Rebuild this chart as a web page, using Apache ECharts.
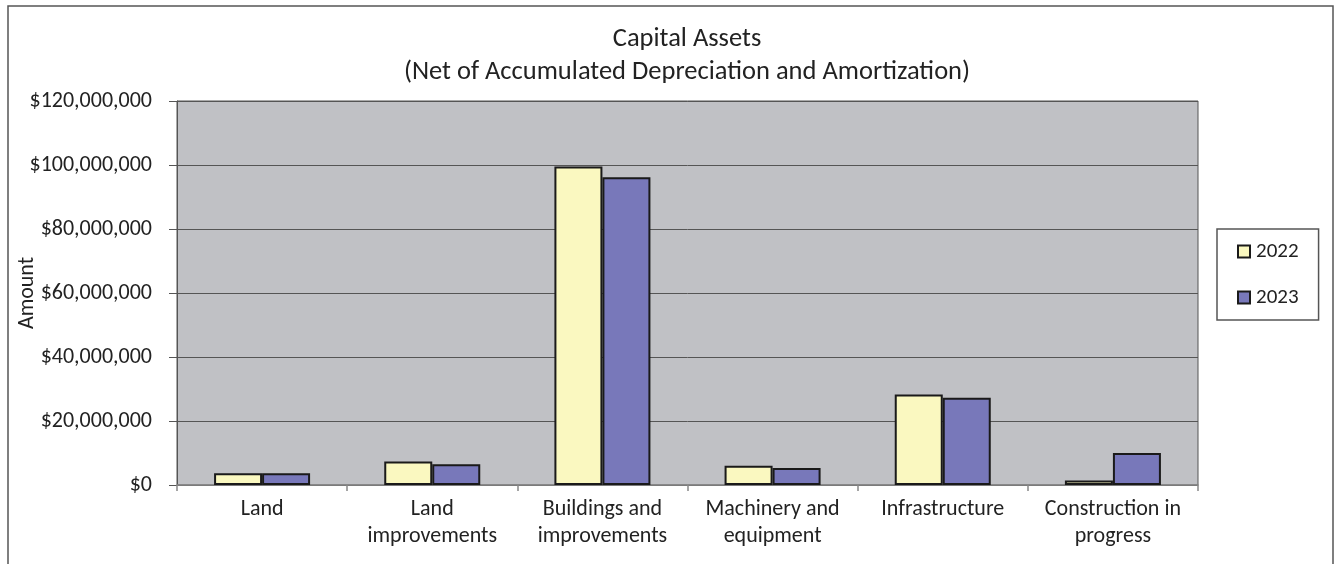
<!DOCTYPE html>
<html>
<head>
<meta charset="utf-8">
<script src="https://cdn.jsdelivr.net/npm/echarts@6/dist/echarts.min.js"></script>
<style>
  html, body { margin: 0; padding: 0; background: #fff; }
  #chart { width: 1335px; height: 564px; }
</style>
</head>
<body>
<div id="chart"></div>
<script>
// categories and values
const categories = ['Land', 'Land\nimprovements', 'Buildings and\nimprovements', 'Machinery and\nequipment', 'Infrastructure', 'Construction in\nprogress'];
const values2022 = [3700000, 7350000, 99500000, 6000000, 28300000, 1400000];
const values2023 = [3700000, 6500000, 96200000, 5300000, 27300000, 10000000];
const yTicks = { min: 0, max: 120000000, interval: 20000000 };

const font = 'Carlito, Lato, "Open Sans", sans-serif';
const chart = echarts.init(document.getElementById('chart'));

const money = v => '$' + v.toString().replace(/\B(?=(\d{3})+(?!\d))/g, ',');

chart.setOption({
  animation: false,
  textStyle: { fontFamily: font, color: '#222' },
  title: {
    text: 'Capital Assets\n(Net of Accumulated Depreciation and Amortization)',
    left: 682, top: 18, textAlign: 'center',
    textStyle: { fontFamily: font, fontSize: 26.5, fontWeight: 'normal', color: '#222', lineHeight: 33 }
  },
  graphic: [
    // outer chart frame
    { type: 'rect', shape: { x: 8, y: 6, width: 1325, height: 600 }, style: { fill: 'none', stroke: '#555', lineWidth: 1.5 }, silent: true }
  ],
  legend: {
    orient: 'vertical',
    left: 1217, top: 229,
    padding: [12, 20, 12, 20],
    itemGap: 25,
    itemWidth: 12, itemHeight: 12,
    borderColor: '#555', borderWidth: 1.5,
    backgroundColor: '#fff',
    icon: 'rect',
    textStyle: { fontFamily: font, fontSize: 21, color: '#222', padding: [0, 0, 0, 1] },
    data: ['2022', '2023']
  },
  grid: {
    left: 177, right: 137, top: 101, bottom: 79,
    outerBoundsMode: 'none', containLabel: false,
    show: true, backgroundColor: '#c0c1c5', borderColor: '#555', borderWidth: 1
  },
  xAxis: {
    type: 'category',
    data: categories,
    axisLine: { lineStyle: { color: '#888', width: 1.5 } },
    axisTick: { show: true, length: 6, lineStyle: { color: '#888', width: 1.5 } },
    axisLabel: { fontFamily: font, fontSize: 22, color: '#222', lineHeight: 27, margin: 11, interval: 0 }
  },
  yAxis: {
    type: 'value',
    min: yTicks.min, max: yTicks.max, interval: yTicks.interval,
    name: 'Amount', nameLocation: 'middle', nameGap: 139, nameRotate: 90, nameMoveOverlap: false,
    nameTextStyle: { fontFamily: font, fontSize: 22, color: '#222' },
    axisLine: { show: true, lineStyle: { color: '#555' } },
    axisTick: { show: true, length: 8, lineStyle: { color: '#555' } },
    axisLabel: { fontFamily: font, fontSize: 22, color: '#222', margin: 25, formatter: money },
    splitLine: { lineStyle: { color: '#555', width: 1 } }
  },
  series: [
    {
      name: '2022', type: 'bar', data: values2022, barWidth: 48, barGap: '0%',
      itemStyle: { color: '#faf8c0', borderColor: '#1a1a1a', borderWidth: 2 }
    },
    {
      name: '2023', type: 'bar', data: values2023, barWidth: 48,
      itemStyle: { color: '#7878ba', borderColor: '#1a1a1a', borderWidth: 2 }
    }
  ]
});
</script>
</body>
</html>
